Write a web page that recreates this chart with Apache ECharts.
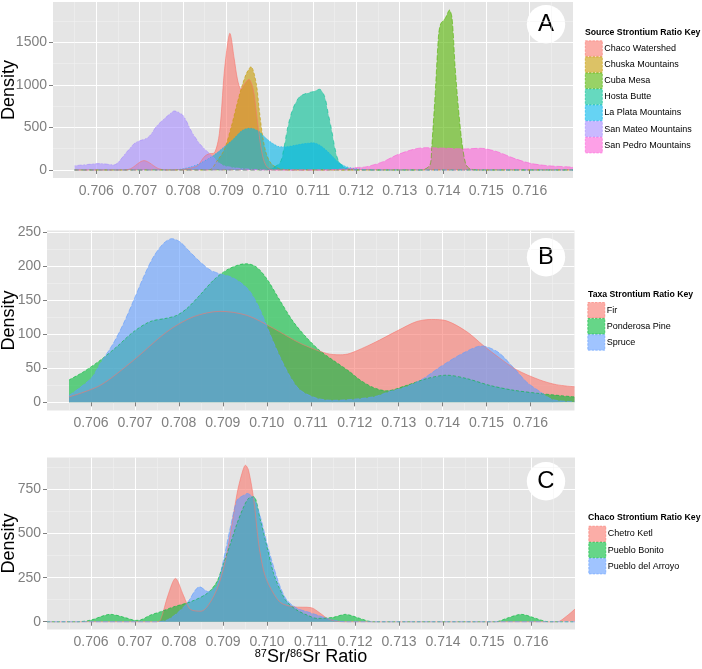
<!DOCTYPE html>
<html><head><meta charset="utf-8">
<script src="https://cdn.jsdelivr.net/npm/echarts@6/dist/echarts.min.js"></script>
<style>html,body{margin:0;padding:0;background:#fff}#c{width:702px;height:669px}</style>
</head><body><div id="c"></div>
<script>
// ---------- tick labels ----------
const xTicks = [0.706,0.707,0.708,0.709,0.710,0.711,0.712,0.713,0.714,0.715,0.716];
const yTicksA = [0,500,1000,1500];
const yMinorA = [250,750,1250,1750];
const yTicksB = [0,50,100,150,200,250];
const yMinorB = [25,75,125,175,225];
const yTicksC = [0,250,500,750];
const yMinorC = [125,375,625,875];

// ---------- Panel A: sources ----------
const namesA = ['Chaco Watershed','Chuska Mountains','Cuba Mesa','Hosta Butte','La Plata Mountains','San Mateo Mountains','San Pedro Mountains'];
const chacoX = [0.7055,0.7066,0.70679,0.7071,0.70744,0.7077,0.7083,0.7085,0.7086,0.70872,0.70884,0.70895,0.70903,0.70908,0.70918,0.70926,0.70934,0.70942,0.70952,0.70962,0.7097,0.70978,0.70986,0.70995,0.7101,0.717];
const chacoY = [0,0,15,110,15,0,40,160,190,200,431,1136,1488,1605,1312,1057,948,1010,1065,950,650,330,120,30,0,0];
const chuskaX = [0.7055,0.7086,0.7088,0.70895,0.70911,0.70922,0.70934,0.70946,0.70957,0.70969,0.70976,0.70984,0.70992,0.71003,0.7102,0.7105,0.717];
const chuskaY = [0,0,117,235,500,720,950,1130,1213,1018,705,391,196,78,20,0,0];
const cubaX = [0.7055,0.7135,0.7137,0.71374,0.71382,0.7139,0.71395,0.71405,0.71415,0.71421,0.71428,0.71436,0.71444,0.71452,0.7146,0.7148,0.717];
const cubaY = [0,0,60,274,900,1600,1720,1780,1879,1780,1210,705,313,78,20,0,0];
const hostaX = [0.7055,0.7098,0.7100,0.71023,0.7103,0.71042,0.71054,0.71069,0.71085,0.711,0.71115,0.71127,0.71135,0.71143,0.7115,0.71158,0.7117,0.7119,0.7121,0.717];
const hostaY = [0,0,10,80,180,509,725,861,901,920,948,861,666,470,274,117,39,5,0,0];
const laPlataX = [0.7055,0.7078,0.7080,0.7082,0.7084,0.7087,0.70891,0.70914,0.70938,0.70957,0.70976,0.70992,0.71007,0.71023,0.71038,0.71061,0.71085,0.711,0.71115,0.7113,0.71146,0.71162,0.71177,0.71193,0.7122,0.7125,0.717];
const laPlataY = [0,0,15,40,80,170,255,352,470,490,450,372,313,274,274,294,313,321,294,235,156,78,39,20,5,0,0];
const sanMateoX = [0.7055,0.7058,0.7061,0.7064,0.7067,0.7069,0.7072,0.7074,0.7077,0.7078,0.7080,0.7082,0.7084,0.7087,0.7089,0.7092,0.7096,0.7100,0.717];
const sanMateoY = [50,65,75,60,210,320,385,520,660,693,640,450,300,150,60,25,8,0,0];
const sanPedroX = [0.7055,0.7113,0.7115,0.7118,0.7120,0.71224,0.71262,0.71293,0.71332,0.71359,0.71409,0.71448,0.71486,0.71525,0.71564,0.71602,0.71641,0.7168,0.717];
const sanPedroY = [0,0,5,15,28,39,98,176,243,262,255,247,255,215,137,78,51,39,35];

// ---------- Panel B: taxa ----------
const namesB = ['Fir','Ponderosa Pine','Spruce'];
const firX = [0.7055,0.70621,0.70697,0.70773,0.70833,0.70894,0.70955,0.71015,0.71076,0.71136,0.71167,0.71189,0.71242,0.71299,0.71341,0.71375,0.71409,0.71455,0.71492,0.7153,0.71568,0.71621,0.71659,0.717];
const firY = [8,25,62,104,126,134,128,109,87,72,70,72,87,106,119,122,120,104,84,65,48,33,26,23];
const ponderosaX = [0.7055,0.70583,0.70621,0.70659,0.70697,0.70735,0.70773,0.70795,0.70818,0.70848,0.70879,0.70909,0.70939,0.70955,0.70977,0.71,0.7103,0.7106,0.71091,0.71121,0.71151,0.71189,0.71212,0.71242,0.71273,0.71318,0.71364,0.71409,0.71455,0.71507,0.7156,0.71621,0.717];
const ponderosaY = [33,45,62,82,104,119,124,128,138,158,180,195,203,204,199,182,150,119,95,76,62,45,33,22,17,25,35,40,35,25,18,13,8];
const spruceX = [0.7055,0.7060,0.70621,0.70651,0.70674,0.70697,0.7072,0.70742,0.70765,0.70784,0.70803,0.70826,0.70848,0.70871,0.70894,0.70917,0.70939,0.70962,0.70985,0.71007,0.7103,0.71053,0.71076,0.71114,0.7115,0.71242,0.7128,0.71318,0.71356,0.71394,0.71445,0.71489,0.71526,0.7156,0.71591,0.71621,0.71651,0.717];
const spruceY = [10,35,57,87,116,150,185,214,234,241,236,221,207,195,189,185,177,163,136,101,67,38,18,6,3,8,16,23,35,52,72,83,74,52,30,16,4,1];

// ---------- Panel C: Chaco sites ----------
const namesC = ['Chetro Ketl','Pueblo Bonito','Pueblo del Arroyo'];
const chetroX = [0.705,0.7075,0.70758,0.70775,0.70792,0.7081,0.70826,0.7085,0.7088,0.70901,0.70917,0.70932,0.70943,0.70951,0.70958,0.7097,0.70981,0.70992,0.71004,0.7103,0.7106,0.711,0.7112,0.7114,0.7117,0.7166,0.7168,0.717];
const chetroY = [0,0,10,150,246,150,70,60,150,300,501,728,841,888,860,690,444,293,210,110,85,80,50,15,0,0,30,72];
const bonitoX = [0.705,0.7057,0.706,0.70644,0.7068,0.70701,0.70712,0.70735,0.70758,0.70788,0.70826,0.70864,0.70886,0.70901,0.70917,0.70932,0.70947,0.70958,0.7097,0.70985,0.71,0.71015,0.7103,0.71045,0.71068,0.71091,0.71114,0.7115,0.71178,0.7121,0.7124,0.7152,0.71545,0.71578,0.7161,0.7164,0.717];
const bonitoY = [0,0,10,42,22,8,10,38,57,85,113,161,227,331,444,558,652,700,709,577,425,274,180,113,66,38,19,25,42,20,0,0,20,42,20,0,0];
const arroyoX = [0.705,0.7075,0.70773,0.70795,0.70818,0.70847,0.70867,0.70886,0.70901,0.70917,0.70932,0.70947,0.70955,0.7097,0.70985,0.71,0.71015,0.7103,0.71045,0.71068,0.71091,0.71114,0.71136,0.7116,0.7118,0.717];
const arroyoY = [0,0,10,47,104,198,170,208,350,539,690,718,728,700,595,444,312,198,123,76,57,38,19,5,0,0];

const colorsA = ['#F8766D','#C49A00','#53B400','#00C094','#00B6EB','#A58AFF','#FB61D7'];
const colorsBC = ['#F8766D','#00BA38','#619CFF'];
const dashes = ['solid',[3,2],[5,2],[4,4],[1,2],[1,2,4,2],[6,2]];

function pairs(xs, ys){ return xs.map((x,i)=>[x, ys[i]]); }
function rgba(hex, a){ const n=parseInt(hex.slice(1),16); return 'rgba('+((n>>16)&255)+','+((n>>8)&255)+','+(n&255)+','+a+')'; }

const panelsData = [
  {names:namesA, colors:colorsA, xs:[chacoX,chuskaX,cubaX,hostaX,laPlataX,sanMateoX,sanPedroX], ys:[chacoY,chuskaY,cubaY,hostaY,laPlataY,sanMateoY,sanPedroY]},
  {names:namesB, colors:colorsBC, xs:[firX,ponderosaX,spruceX], ys:[firY,ponderosaY,spruceY]},
  {names:namesC, colors:colorsBC, xs:[chetroX,bonitoX,arroyoX], ys:[chetroY,bonitoY,arroyoY]}
];

const grids = [
  {left:53, top:2, width:520, height:176},
  {left:47, top:230.5, width:527.5, height:180},
  {left:47, top:457.5, width:528, height:172}
];
const yRanges = [[-94,1973],[-12,253],[-44,932]];
const yMajor = [yTicksA, yTicksB, yTicksC];
const yMinor = [yMinorA, yMinorB, yMinorC];
const yNameGap = [35, 29, 29];
const legendPos = [
  {title:'Source Strontium Ratio Key', tx:585, ty:28.5, lx:585, ly:40.5},
  {title:'Taxa Strontium Ratio Key', tx:588, ty:290.5, lx:587.5, ly:302.2},
  {title:'Chaco Strontium Ratio Key', tx:588, ty:513.5, lx:588.5, ly:525.9}
];
const letters = ['A','B','C'];
const letterPos = [[546,24.2],[546,257.2],[546,481.3]];

const FONT = '"Liberation Sans", Arial, sans-serif';
const option = {
  animation:false,
  textStyle:{fontFamily:FONT},
  grid: grids.map(g=>Object.assign({show:true, backgroundColor:'#E5E5E5', borderWidth:0, containLabel:false, outerBoundsMode:'none'}, g)),
  xAxis: grids.map((g,i)=>({
    type:'value', gridIndex:i, min:0.705, max:0.717, interval:0.001,
    axisLine:{show:false},
    axisTick:{show:true, length:4, lineStyle:{color:'#7F7F7F'}, customValues:xTicks},
    axisLabel:{show:true, color:'#7F7F7F', fontSize:14, margin:6, customValues:xTicks, formatter:v=>v.toFixed(3)},
    splitLine:{show:true, lineStyle:{color:'#FFFFFF', width:1}},
    minorTick:{show:false, splitNumber:2},
    minorSplitLine:{show:true, lineStyle:{color:'#F2F2F2', width:0.5}},
    name: i===2 ? '{sup|87}Sr/{sup|86}Sr Ratio' : '',
    nameLocation:'middle', nameGap:19, nameMoveOverlap:false,
    nameTextStyle:{fontSize:18, color:'#000', fontFamily:FONT, rich:{sup:{fontSize:11, verticalAlign:'top', color:'#000', fontFamily:FONT}}}
  })),
  yAxis: [].concat(...grids.map((g,i)=>[
    {type:'value', gridIndex:i, min:yRanges[i][0], max:yRanges[i][1], position:'left',
     axisLine:{show:false},
     axisTick:{show:true, length:4, lineStyle:{color:'#7F7F7F'}, customValues:yMajor[i]},
     axisLabel:{show:true, color:'#7F7F7F', fontSize:14, margin:6, customValues:yMajor[i], formatter:v=>String(Math.round(v))},
     splitLine:{show:true, lineStyle:{color:'#FFFFFF', width:1}},
     name:'Density', nameLocation:'middle', nameGap:yNameGap[i], nameMoveOverlap:false,
     nameTextStyle:{fontSize:18, color:'#000', fontFamily:FONT}},
    {type:'value', gridIndex:i, min:yRanges[i][0], max:yRanges[i][1], position:'right',
     axisLine:{show:false},
     axisTick:{show:false, customValues:yMinor[i]},
     axisLabel:{show:false, customValues:yMinor[i]},
     splitLine:{show:true, lineStyle:{color:'#F2F2F2', width:0.5}}}
  ])),
  title: legendPos.map(p=>({text:p.title, left:p.tx, top:p.ty, padding:0,
    textStyle:{fontSize:8.7, fontWeight:'bold', color:'#000', fontFamily:FONT}})),
  legend: panelsData.map((p,i)=>({
    data: p.names.map((n,k)=>({name:n, icon:'rect', itemStyle:{color:rgba(p.colors[k],0.6), borderColor:p.colors[k], borderWidth:0.6, borderType:'dashed'}})),
    left:legendPos[i].lx, top:legendPos[i].ly, orient:'vertical', itemWidth:17, itemHeight:15.5, itemGap:0, padding:0,
    selectedMode:false, textStyle:{fontSize:9, color:'#000', fontFamily:FONT, padding:[0,0,0,-3]}
  })),
  graphic: letters.map((L,i)=>({
    type:'group', left:letterPos[i][0]-19.2, top:letterPos[i][1]-19.2, z:100,
    children:[
      {type:'circle', shape:{cx:19.2, cy:19.2, r:19.2}, style:{fill:'#FFFFFF'}},
      {type:'text', x:19.2, y:19.2, style:{text:L, fontSize:24, fill:'#000', align:'center', verticalAlign:'middle', fontFamily:FONT}}
    ]
  })),
  series: [].concat(...panelsData.map((p,i)=>p.names.map((n,k)=>({
    name:n, type:'line', xAxisIndex:i, yAxisIndex:i*2,
    data: pairs(p.xs[k], p.ys[k]),
    smooth:0.3, showSymbol:false, symbol:'none', silent:true,
    itemStyle:{color:p.colors[k]},
    lineStyle:{color:p.colors[k], width:0.6, type:dashes[k]},
    areaStyle:{color:p.colors[k], opacity:0.6}
  }))))
};
const chart = echarts.init(document.getElementById('c'), null, {renderer:'canvas'});
chart.setOption(option);
</script></body></html>
